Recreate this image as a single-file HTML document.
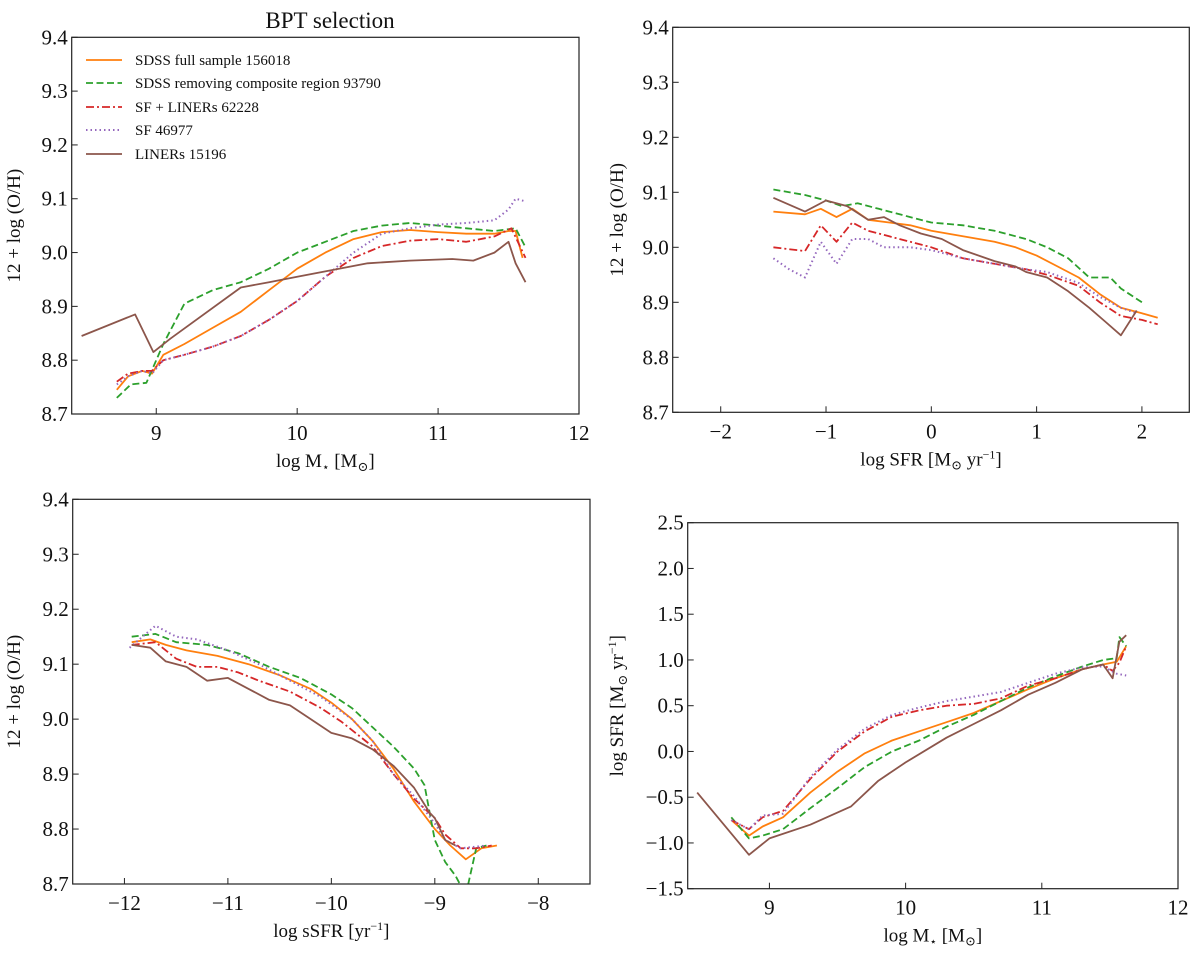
<!DOCTYPE html>
<html><head><meta charset="utf-8"><style>
body{margin:0;background:#fff;}
svg text{font-family:"Liberation Serif","DejaVu Serif",serif;fill:#111;}
</style></head><body>
<svg id="fig" width="1200" height="951" viewBox="0 0 1200 951" xmlns="http://www.w3.org/2000/svg"></svg>
<script>
// ---- data ----
const seriesNames = ["SDSS full sample 156018","SDSS removing composite region 93790","SF + LINERs 62228","SF 46977","LINERs 15196"];
const seriesKeys = ["full","nocomp","sfliner","sf","liner"];
// Panel 1: log M* vs 12+log(O/H)
const p1_full_x=[8.72,8.8,8.9,8.97,9.05,9.2,9.4,9.6,9.8,10.0,10.2,10.4,10.6,10.8,11.0,11.2,11.4,11.5,11.55,11.6];
const p1_full_y=[8.745,8.77,8.78,8.775,8.81,8.83,8.86,8.89,8.93,8.97,9.0,9.025,9.038,9.042,9.038,9.035,9.035,9.04,9.04,8.99];
const p1_nocomp_x=[8.72,8.82,8.93,9.05,9.2,9.4,9.6,9.8,10.0,10.2,10.4,10.6,10.8,11.0,11.2,11.4,11.55,11.62];
const p1_nocomp_y=[8.73,8.755,8.758,8.83,8.905,8.93,8.945,8.97,9.0,9.02,9.04,9.05,9.055,9.05,9.045,9.04,9.045,9.01];
const p1_sfliner_x=[8.72,8.8,8.9,8.97,9.05,9.2,9.4,9.6,9.8,10.0,10.2,10.4,10.6,10.8,11.0,11.2,11.4,11.52,11.62];
const p1_sfliner_y=[8.76,8.775,8.78,8.78,8.8,8.81,8.825,8.845,8.875,8.91,8.955,8.99,9.012,9.022,9.025,9.02,9.03,9.045,8.99];
const p1_sf_x=[8.72,8.8,8.9,8.97,9.05,9.2,9.4,9.6,9.8,10.0,10.2,10.4,10.6,10.8,11.0,11.2,11.4,11.5,11.55,11.62];
const p1_sf_y=[8.755,8.77,8.78,8.775,8.8,8.81,8.825,8.845,8.875,8.91,8.955,9.0,9.035,9.045,9.052,9.055,9.06,9.08,9.1,9.095];
const p1_liner_x=[8.47,8.85,8.98,9.1,9.6,9.8,10.0,10.2,10.5,10.8,11.1,11.25,11.4,11.5,11.55,11.62];
const p1_liner_y=[8.845,8.885,8.815,8.84,8.935,8.945,8.955,8.965,8.98,8.985,8.988,8.985,9.0,9.02,8.98,8.945];
// Panel 2: log SFR vs 12+log(O/H)
const p2_full_x=[-1.5,-1.2,-1.05,-0.9,-0.75,-0.6,-0.4,-0.2,0,0.3,0.6,0.8,1.0,1.2,1.4,1.6,1.8,2.0,2.15];
const p2_full_y=[9.065,9.06,9.07,9.055,9.07,9.05,9.045,9.04,9.03,9.02,9.01,9.0,8.985,8.965,8.945,8.915,8.89,8.88,8.872];
const p2_nocomp_x=[-1.5,-1.2,-1.0,-0.85,-0.7,-0.5,-0.2,0,0.3,0.6,0.9,1.1,1.3,1.5,1.7,1.8,2.0];
const p2_nocomp_y=[9.105,9.095,9.085,9.075,9.08,9.07,9.055,9.045,9.04,9.03,9.015,9.0,8.98,8.945,8.945,8.925,8.9];
const p2_sfliner_x=[-1.5,-1.2,-1.05,-0.9,-0.75,-0.6,-0.4,-0.2,0,0.3,0.6,0.9,1.1,1.4,1.6,1.8,2.0,2.15];
const p2_sfliner_y=[9.0,8.993,9.04,9.01,9.045,9.03,9.02,9.01,9.0,8.98,8.97,8.96,8.95,8.93,8.9,8.875,8.868,8.86];
const p2_sf_x=[-1.5,-1.35,-1.2,-1.05,-0.9,-0.75,-0.6,-0.45,-0.2,0,0.3,0.6,0.9,1.1,1.4,1.6,1.8,1.95];
const p2_sf_y=[8.98,8.96,8.945,9.01,8.97,9.015,9.015,9.0,9.0,8.995,8.98,8.97,8.96,8.955,8.935,8.91,8.89,8.88];
const p2_liner_x=[-1.5,-1.2,-1.0,-0.8,-0.6,-0.45,-0.3,-0.1,0.1,0.3,0.6,0.8,0.9,1.1,1.3,1.5,1.65,1.8,1.95];
const p2_liner_y=[9.09,9.065,9.085,9.075,9.05,9.055,9.04,9.025,9.015,8.995,8.975,8.965,8.955,8.945,8.92,8.89,8.865,8.84,8.885];
// Panel 3: log sSFR vs 12+log(O/H)
const p3_full_x=[-11.93,-11.75,-11.6,-11.4,-11.1,-10.8,-10.5,-10.2,-10.0,-9.8,-9.6,-9.4,-9.2,-9.0,-8.85,-8.7,-8.55,-8.4];
const p3_full_y=[9.14,9.145,9.135,9.125,9.115,9.1,9.08,9.055,9.03,9.0,8.96,8.91,8.85,8.8,8.77,8.745,8.765,8.77];
const p3_nocomp_x=[-11.93,-11.7,-11.5,-11.2,-10.9,-10.6,-10.3,-10.0,-9.8,-9.6,-9.4,-9.2,-9.1,-9.0,-8.9,-8.8,-8.7,-8.6,-8.5];
const p3_nocomp_y=[9.15,9.155,9.14,9.135,9.12,9.095,9.075,9.045,9.02,8.985,8.95,8.91,8.88,8.78,8.74,8.715,8.68,8.765,8.77];
const p3_sfliner_x=[-11.93,-11.7,-11.5,-11.3,-11.1,-10.9,-10.7,-10.4,-10.1,-9.9,-9.6,-9.4,-9.2,-9.0,-8.9,-8.75,-8.6,-8.45];
const p3_sfliner_y=[9.135,9.14,9.11,9.095,9.095,9.085,9.07,9.05,9.02,8.995,8.95,8.9,8.855,8.82,8.79,8.765,8.765,8.77];
const p3_sf_x=[-11.95,-11.7,-11.5,-11.3,-11.0,-10.7,-10.4,-10.1,-9.8,-9.6,-9.4,-9.2,-9.0,-8.9,-8.75,-8.5];
const p3_sf_y=[9.13,9.17,9.15,9.145,9.125,9.1,9.07,9.04,9.0,8.96,8.9,8.86,8.81,8.78,8.765,8.77];
const p3_liner_x=[-11.93,-11.75,-11.6,-11.4,-11.2,-11.0,-10.8,-10.6,-10.4,-10.2,-10.0,-9.8,-9.6,-9.4,-9.2,-9.05,-9.0,-8.9,-8.8];
const p3_liner_y=[9.135,9.13,9.105,9.095,9.07,9.075,9.055,9.035,9.025,9.0,8.975,8.965,8.945,8.915,8.875,8.83,8.82,8.78,8.77];
// Panel 4: log M* vs log SFR
const p4_full_x=[8.72,8.85,8.95,9.1,9.3,9.5,9.7,9.9,10.1,10.3,10.5,10.7,10.9,11.1,11.3,11.45,11.55,11.62];
const p4_full_y=[-0.75,-0.92,-0.82,-0.72,-0.45,-0.22,-0.02,0.12,0.22,0.32,0.42,0.55,0.68,0.8,0.9,0.95,0.98,1.15];
const p4_nocomp_x=[8.72,8.85,8.95,9.1,9.3,9.5,9.7,9.9,10.1,10.3,10.5,10.7,10.9,11.1,11.3,11.45,11.55,11.57,11.62];
const p4_nocomp_y=[-0.72,-0.95,-0.92,-0.85,-0.62,-0.4,-0.17,0.0,0.12,0.27,0.4,0.55,0.7,0.82,0.93,1.0,1.02,1.25,1.15];
const p4_sfliner_x=[8.72,8.85,8.95,9.1,9.3,9.5,9.7,9.9,10.1,10.3,10.5,10.7,10.9,11.1,11.3,11.45,11.52,11.57,11.62];
const p4_sfliner_y=[-0.75,-0.85,-0.72,-0.65,-0.3,0.0,0.22,0.38,0.45,0.5,0.52,0.58,0.72,0.8,0.9,0.95,0.88,0.97,1.15];
const p4_sf_x=[8.72,8.85,8.95,9.1,9.3,9.5,9.7,9.9,10.1,10.3,10.5,10.7,10.9,11.1,11.3,11.45,11.55,11.62];
const p4_sf_y=[-0.75,-0.85,-0.7,-0.68,-0.28,0.02,0.25,0.4,0.48,0.55,0.6,0.65,0.75,0.85,0.92,0.93,0.85,0.83];
const p4_liner_x=[8.47,8.85,9.0,9.3,9.6,9.8,10.0,10.3,10.5,10.7,10.9,11.1,11.3,11.45,11.52,11.57,11.62];
const p4_liner_y=[-0.45,-1.13,-0.95,-0.8,-0.6,-0.32,-0.12,0.15,0.3,0.45,0.62,0.75,0.9,0.95,0.8,1.2,1.27];
// tick labels
const ohTicks=[8.7,8.8,8.9,9.0,9.1,9.2,9.3,9.4];
const massTicks=[9,10,11,12];
const sfrTicks=[-2,-1,0,1,2];
const ssfrTicks=[-12,-11,-10,-9,-8];
const lsfrTicks=[-1.5,-1.0,-0.5,0.0,0.5,1.0,1.5,2.0,2.5];

const NS="http://www.w3.org/2000/svg";
const svg=document.getElementById('fig');
const styles={
 full:{c:"#ff7f0e",d:""},
 nocomp:{c:"#2ca02c",d:"7,3.5"},
 sfliner:{c:"#d62728",d:"8,3,2,3"},
 sf:{c:"#9467bd",d:"1.5,3"},
 liner:{c:"#8c564b",d:""}
};
function mk(tag,attrs,parent){const e=document.createElementNS(NS,tag);for(const k in attrs)e.setAttribute(k,attrs[k]);(parent||svg).appendChild(e);return e;}
function txt(s,x,y,size,anchor,parent){const t=mk('text',{x:x,y:y,'font-size':size,'text-anchor':anchor||'middle'},parent);t.textContent=s;return t;}

function panel(id,box,xr,yr,xt,yt,xfmt,yfmt,data,xlabel,ylabelHTML,ylx){
 const g=mk('g',{});
 
 
 const [L,T,R,B]=box;
 const sx=v=>L+(v-xr[0])/(xr[1]-xr[0])*(R-L);
 const sy=v=>B-(v-yr[0])/(yr[1]-yr[0])*(B-T);
 const clip=mk('clipPath',{id:id+'-clip'},g);mk('rect',{x:L,y:T,width:R-L,height:B-T},clip);
 const lines=mk('g',{'clip-path':'url(#'+id+'-clip)'},g);
 for(const k of seriesKeys){
  const xs=data[k][0],ys=data[k][1];
  const pts=xs.map((x,i)=>sx(x).toFixed(1)+','+sy(ys[i]).toFixed(1)).join(' ');
  const p=mk('polyline',{points:pts,fill:'none',stroke:styles[k].c,'stroke-width':k==='sf'?2:1.8,'stroke-dasharray':styles[k].d,'stroke-linejoin':'round'},lines);
  
  
 }
 const fr=mk('rect',{x:L,y:T,width:R-L,height:B-T,fill:'none',stroke:'#222','stroke-width':1.2},g);
 
 
 for(const v of xt){const x=sx(v);mk('line',{x1:x,x2:x,y1:B,y2:B-6,stroke:'#222','stroke-width':1},g);
  const t=txt(xfmt(v),x,B+26,21,'middle',g);
  
  }
 for(const v of yt){const y=sy(v);mk('line',{x1:L,x2:L+6,y1:y,y2:y,stroke:'#222','stroke-width':1},g);
  const t=txt(yfmt(v),L-4,y+7,21,'end',g);
  
  }
 const xl=txt('',(L+R)/2,B+53,19,'middle',g);xl.innerHTML=xlabel;
 
 
 const yl=txt('',0,0,19,'middle',g);yl.innerHTML=ylabelHTML;
 yl.setAttribute('transform','translate('+ylx+','+((T+B)/2)+') rotate(-90)');
 
 
 return g;
}
const minus=s=>String(s).replace('-','\u2212');
const f1=v=>v.toFixed(1);
const fi=v=>minus(v);
const f1m=v=>minus(v.toFixed(1));
const P1={full:[p1_full_x,p1_full_y],nocomp:[p1_nocomp_x,p1_nocomp_y],sfliner:[p1_sfliner_x,p1_sfliner_y],sf:[p1_sf_x,p1_sf_y],liner:[p1_liner_x,p1_liner_y]};
const P2={full:[p2_full_x,p2_full_y],nocomp:[p2_nocomp_x,p2_nocomp_y],sfliner:[p2_sfliner_x,p2_sfliner_y],sf:[p2_sf_x,p2_sf_y],liner:[p2_liner_x,p2_liner_y]};
const P3={full:[p3_full_x,p3_full_y],nocomp:[p3_nocomp_x,p3_nocomp_y],sfliner:[p3_sfliner_x,p3_sfliner_y],sf:[p3_sf_x,p3_sf_y],liner:[p3_liner_x,p3_liner_y]};
const P4={full:[p4_full_x,p4_full_y],nocomp:[p4_nocomp_x,p4_nocomp_y],sfliner:[p4_sfliner_x,p4_sfliner_y],sf:[p4_sf_x,p4_sf_y],liner:[p4_liner_x,p4_liner_y]};
const OH='12 + log (O/H)';
const MASS='log M<tspan font-size="12" dy="4">\u22C6</tspan><tspan dy="-4"> [M</tspan><tspan font-size="13" dy="4">\u2299</tspan><tspan dy="-4">]</tspan>';
const SFRL='log SFR [M<tspan font-size="13" dy="4">\u2299</tspan><tspan dy="-4"> yr</tspan><tspan font-size="12" dy="-7">\u22121</tspan><tspan dy="7">]</tspan>';
panel('panel-mass-oh',[71.7,37.3,579,414],[8.4,12],[8.7,9.4],massTicks,ohTicks,fi,f1,P1,MASS,OH,20);
panel('panel-sfr-oh',[672.7,27.3,1189.3,412.3],[-2.456,2.45],[8.7,9.4],sfrTicks,ohTicks,fi,f1,P2,SFRL,OH,623);
panel('panel-ssfr-oh',[72.7,499.3,590,884],[-12.5,-7.5],[8.7,9.4],ssfrTicks,ohTicks,fi,f1,P3,
 'log sSFR [yr<tspan font-size="12" dy="-7">\u22121</tspan><tspan dy="7">]</tspan>',OH,20);
panel('panel-mass-sfr',[687.7,522.7,1178,888.7],[8.4,12],[-1.5,2.5],massTicks,lsfrTicks,fi,f1m,P4,MASS,SFRL,623);
const title=txt('BPT selection',330,28,23,'middle');


const lg=mk('g',{});


const rowY=[60,83,107,130,154];
seriesKeys.forEach((k,i)=>{
 const e=mk('g',{},lg);
 
 
 mk('line',{x1:86,x2:122,y1:rowY[i],y2:rowY[i],stroke:styles[k].c,'stroke-width':k==='sf'?2:1.8,'stroke-dasharray':styles[k].d},e);
 txt(seriesNames[i],135,rowY[i]+5,15,'start',e);
});
</script>
</body></html>
